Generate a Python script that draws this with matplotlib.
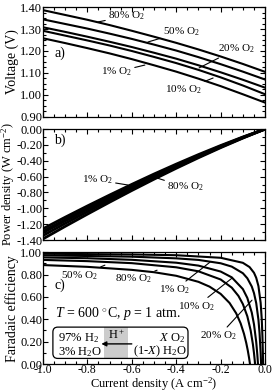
import matplotlib
matplotlib.use('Agg')
import matplotlib.pyplot as plt
import numpy as np
from matplotlib.patches import FancyBboxPatch, Rectangle
from matplotlib.ticker import MultipleLocator, FormatStrFormatter

plt.rcParams['font.family'] = ['Liberation Serif', 'DejaVu Serif']
plt.rcParams['mathtext.fontset'] = 'custom'
plt.rcParams['mathtext.rm'] = 'Liberation Serif'
plt.rcParams['mathtext.it'] = 'Liberation Serif:italic'
plt.rcParams['axes.unicode_minus'] = False

# current density grid for voltage curves (A cm-2)
cur = [-1.0, -0.9, -0.8, -0.7, -0.6, -0.5, -0.4, -0.3, -0.2, -0.1, 0.0]
# cell voltage (V)
v_80 = [1.386, 1.364, 1.342, 1.318, 1.292, 1.265, 1.237, 1.207, 1.175, 1.141, 1.105]
v_50 = [1.344, 1.323, 1.302, 1.279, 1.255, 1.229, 1.202, 1.172, 1.140, 1.106, 1.070]
v_20 = [1.308, 1.287, 1.265, 1.242, 1.218, 1.192, 1.165, 1.135, 1.103, 1.069, 1.033]
v_10 = [1.292, 1.270, 1.248, 1.225, 1.200, 1.173, 1.145, 1.114, 1.080, 1.043, 1.003]
v_1 = [1.258, 1.236, 1.213, 1.189, 1.163, 1.135, 1.106, 1.074, 1.040, 1.003, 0.965]

# faradaic efficiency
fe_x_80 = [-1.0, -0.8, -0.6, -0.5, -0.4, -0.3, -0.25, -0.2, -0.16, -0.13, -0.11, -0.095, -0.085, -0.078, -0.072, -0.068]
fe_80 = [0.885, 0.869, 0.842, 0.821, 0.789, 0.735, 0.692, 0.627, 0.546, 0.453, 0.363, 0.270, 0.190, 0.122, 0.053, 0.0]
fe_x_50 = [-1.0, -0.8, -0.6, -0.4, -0.3, -0.2, -0.15, -0.12, -0.1, -0.08, -0.065, -0.055, -0.05, -0.045]
fe_50 = [0.931, 0.920, 0.902, 0.865, 0.829, 0.756, 0.683, 0.609, 0.536, 0.427, 0.300, 0.177, 0.098, 0.0]
fe_x_20 = [-1.0, -0.8, -0.6, -0.4, -0.3, -0.2, -0.15, -0.1, -0.08, -0.06, -0.05, -0.04, -0.035, -0.032]
fe_20 = [0.953, 0.946, 0.932, 0.906, 0.880, 0.827, 0.775, 0.670, 0.591, 0.460, 0.355, 0.197, 0.084, 0.0]
fe_x_10 = [-1.0, -0.6, -0.4, -0.3, -0.2, -0.15, -0.1, -0.08, -0.06, -0.05, -0.04, -0.03, -0.025, -0.02, -0.018]
fe_10 = [0.972, 0.960, 0.945, 0.931, 0.901, 0.871, 0.812, 0.767, 0.693, 0.634, 0.545, 0.396, 0.277, 0.099, 0.0]
fe_x_1 = [-1.0, -0.6, -0.4, -0.2, -0.1, -0.07, -0.05, -0.04, -0.03, -0.02, -0.015, -0.012, -0.01, -0.009]
fe_1 = [0.986, 0.980, 0.973, 0.950, 0.905, 0.867, 0.816, 0.771, 0.697, 0.547, 0.398, 0.249, 0.100, 0.0]

LW = 1.5
fig = plt.figure(figsize=(2.75, 3.91), dpi=100)
ax_a = fig.add_axes([0.156, 0.701, 0.808, 0.281])
ax_b = fig.add_axes([0.156, 0.386, 0.808, 0.284])
ax_c = fig.add_axes([0.156, 0.069, 0.808, 0.286])


def style(ax, ymaj, ymin, yfmt):
    ax.set_xlim(-1.0, 0.0)
    ax.xaxis.set_major_locator(MultipleLocator(0.2))
    ax.xaxis.set_minor_locator(MultipleLocator(0.05))
    ax.yaxis.set_major_locator(MultipleLocator(ymaj))
    ax.yaxis.set_minor_locator(MultipleLocator(ymin))
    ax.yaxis.set_major_formatter(FormatStrFormatter(yfmt))
    ax.tick_params(which='both', direction='in', top=True, right=True, labelsize=9, pad=1)
    ax.tick_params(axis='y', pad=0.5)
    ax.tick_params(which='major', length=3.5, width=0.8)
    ax.tick_params(which='minor', length=2, width=0.8)
    for s in ax.spines.values():
        s.set_linewidth(0.9)


def lab(ax, txt, xy, xyt, ha):
    ax.annotate(txt, xy=xy, xytext=xyt, ha=ha, va='center', fontsize=8,
                arrowprops=dict(arrowstyle='-', lw=0.8, shrinkA=0, shrinkB=0))


# a) voltage
for v in [v_80, v_50, v_20, v_10, v_1]:
    ax_a.plot(cur, v, color='black', lw=LW)
style(ax_a, 0.1, 0.025, '%.2f')
ax_a.set_ylim(0.90, 1.40)
ax_a.set_ylabel('Voltage (V)', fontsize=10, labelpad=1)
ax_a.tick_params(labelbottom=False)
ax_a.text(-0.95, 1.19, 'a)', fontsize=10, va='center')
lab(ax_a, '80% O$_2$', (-0.752, 1.332), (-0.707, 1.359), 'left')
lab(ax_a, '50% O$_2$', (-0.527, 1.241), (-0.459, 1.286), 'left')
lab(ax_a, '20% O$_2$', (-0.297, 1.123), (-0.212, 1.209), 'left')
lab(ax_a, '1% O$_2$', (-0.541, 1.136), (-0.599, 1.105), 'right')
lab(ax_a, '10% O$_2$', (-0.234, 1.077), (-0.284, 1.023), 'right')

# b) power density = current x voltage
for v in [v_80, v_50, v_20, v_10, v_1]:
    ax_b.plot(cur, np.array(cur) * np.array(v), color='black', lw=2.0)
style(ax_b, 0.2, 0.1, '%.2f')
ax_b.set_ylim(-1.40, 0.0)
ax_b.set_ylabel('Power density (W cm$^{-2}$)', fontsize=9, labelpad=-0.5)
ax_b.tick_params(labelbottom=False)
ax_b.text(-0.95, -0.14, 'b)', fontsize=10, va='center')
lab(ax_b, '1% O$_2$', (-0.617, -0.706), (-0.685, -0.643), 'right')
lab(ax_b, '80% O$_2$', (-0.486, -0.618), (-0.441, -0.731), 'left')

# c) faradaic efficiency
for x, f in [(fe_x_80, fe_80), (fe_x_50, fe_50), (fe_x_20, fe_20), (fe_x_10, fe_10), (fe_x_1, fe_1)]:
    ax_c.plot(x, f, color='black', lw=LW)
style(ax_c, 0.2, 0.1, '%.2f')
ax_c.set_ylim(0.0, 1.0)
ax_c.xaxis.set_major_formatter(FormatStrFormatter('%.1f'))
ax_c.tick_params(axis='x', pad=0, labelsize=8.5)
ax_c.set_ylabel('Faradaic efficiency', fontsize=10, labelpad=1)
ax_c.set_xlabel('Current density (A cm$^{-2}$)', fontsize=9, labelpad=-0.8)
ax_c.text(-0.95, 0.70, 'c)', fontsize=10, va='center')
lab(ax_c, '50% O$_2$', (-0.721, 0.884), (-0.752, 0.792), 'right')
lab(ax_c, '80% O$_2$', (-0.486, 0.839), (-0.509, 0.765), 'right')
lab(ax_c, '1% O$_2$', (-0.248, 0.911), (-0.338, 0.661), 'right')
lab(ax_c, '10% O$_2$', (-0.149, 0.768), (-0.226, 0.515), 'right')
lab(ax_c, '20% O$_2$', (-0.059, 0.571), (-0.126, 0.25), 'right')

ax_c.text(-0.946, 0.455, '$T$ = 600 $^{\\circ}$C, $p$ = 1 atm.', fontsize=10, va='center')
box = FancyBboxPatch((-0.955, 0.05), 0.608, 0.28, boxstyle='round,pad=0,rounding_size=0.022',
                     fc='white', ec='none', mutation_aspect=2, zorder=3)
ax_c.add_patch(box)
ax_c.add_patch(Rectangle((-0.725, 0.05), 0.108, 0.28, fc='#cccccc', ec='none', zorder=3.1))
edge = FancyBboxPatch((-0.955, 0.05), 0.608, 0.28, boxstyle='round,pad=0,rounding_size=0.022',
                      fc='none', ec='black', lw=0.9, mutation_aspect=2, zorder=3.2)
ax_c.add_patch(edge)
ax_c.text(-0.932, 0.235, '97% H$_2$', fontsize=9, va='center', zorder=4)
ax_c.text(-0.932, 0.11, '3% H$_2$O', fontsize=9, va='center', zorder=4)
ax_c.text(-0.671, 0.262, 'H$^+$', fontsize=9, va='center', ha='center', zorder=4)
ax_c.annotate('', xy=(-0.737, 0.18), xytext=(-0.6, 0.18),
              arrowprops=dict(arrowstyle='-|>', lw=1.0, color='black', mutation_scale=7,
                              shrinkA=0, shrinkB=0), zorder=4)
ax_c.text(-0.419, 0.235, '$X$ O$_2$', fontsize=9, va='center', ha='center', zorder=4)
ax_c.text(-0.473, 0.11, '(1-$X$) H$_2$O', fontsize=9, va='center', ha='center', zorder=4)

fig.savefig('out.png', dpi=100)
